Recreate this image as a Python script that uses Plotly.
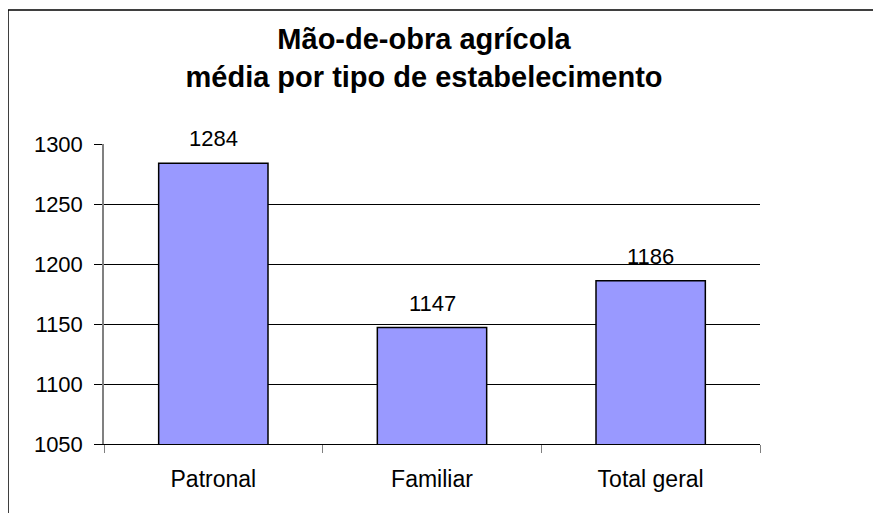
import plotly.graph_objects as go

categories = ["Patronal", "Familiar", "Total geral"]
values = [1284, 1147, 1186]
y_ticks = [1050, 1100, 1150, 1200, 1250, 1300]

FONT = "Liberation Sans, Arial, sans-serif"

W, H = 873, 505
L, T = 96, 136
PW, PH = 656, 300

fig = go.Figure()
fig.add_trace(go.Bar(
    x=categories, y=values,
    marker=dict(color="#9999FF", line=dict(color="black", width=1.5)),
    width=0.5,
    cliponaxis=False,
    hoverinfo="skip",
))

for c, v in zip(categories, values):
    fig.add_annotation(x=c, y=v, text=str(v), showarrow=False,
                       yanchor="bottom", yshift=10,
                       font=dict(family=FONT, size=22, color="black"))

fig.update_layout(
    width=W, height=H,
    margin=dict(l=L, r=W - L - PW, t=T, b=H - T - PH, autoexpand=False),
    paper_bgcolor="white", plot_bgcolor="white",
    showlegend=False,
    title=dict(text="<b>Mão-de-obra agrícola<br>média por tipo de estabelecimento</b>",
               x=416 / W, xanchor="center", xref="container",
               y=1 - 41 / H, yanchor="middle", yref="container",
               font=dict(family=FONT, size=29, color="black")),
    font=dict(family=FONT, size=22, color="black"),
)

fig.update_yaxes(
    range=[1050, 1300], tickvals=y_ticks,
    showgrid=True, gridcolor="black", gridwidth=1,
    ticks="outside", ticklen=8, tickcolor="black",
    showline=True, linecolor="#808080", linewidth=1.5,
    tickfont=dict(family=FONT, size=22, color="black"),
    ticklabelstandoff=7, zeroline=False,
)
fig.update_xaxes(
    tickson="boundaries", ticks="outside", ticklen=8, tickcolor="#808080",
    showline=True, linecolor="black", linewidth=1,
    tickfont=dict(family=FONT, size=23, color="black"),
    ticklabelstandoff=14,
)

# outer chart-area border
fig.add_shape(type="rect", xref="paper", yref="paper",
              x0=(0 - L) / PW, x1=1.5, y0=-0.6, y1=(PH + T - 2) / PH,
              line=dict(color="black", width=1.5), fillcolor="rgba(0,0,0,0)",
              layer="below")

fig.write_html("out.html")
